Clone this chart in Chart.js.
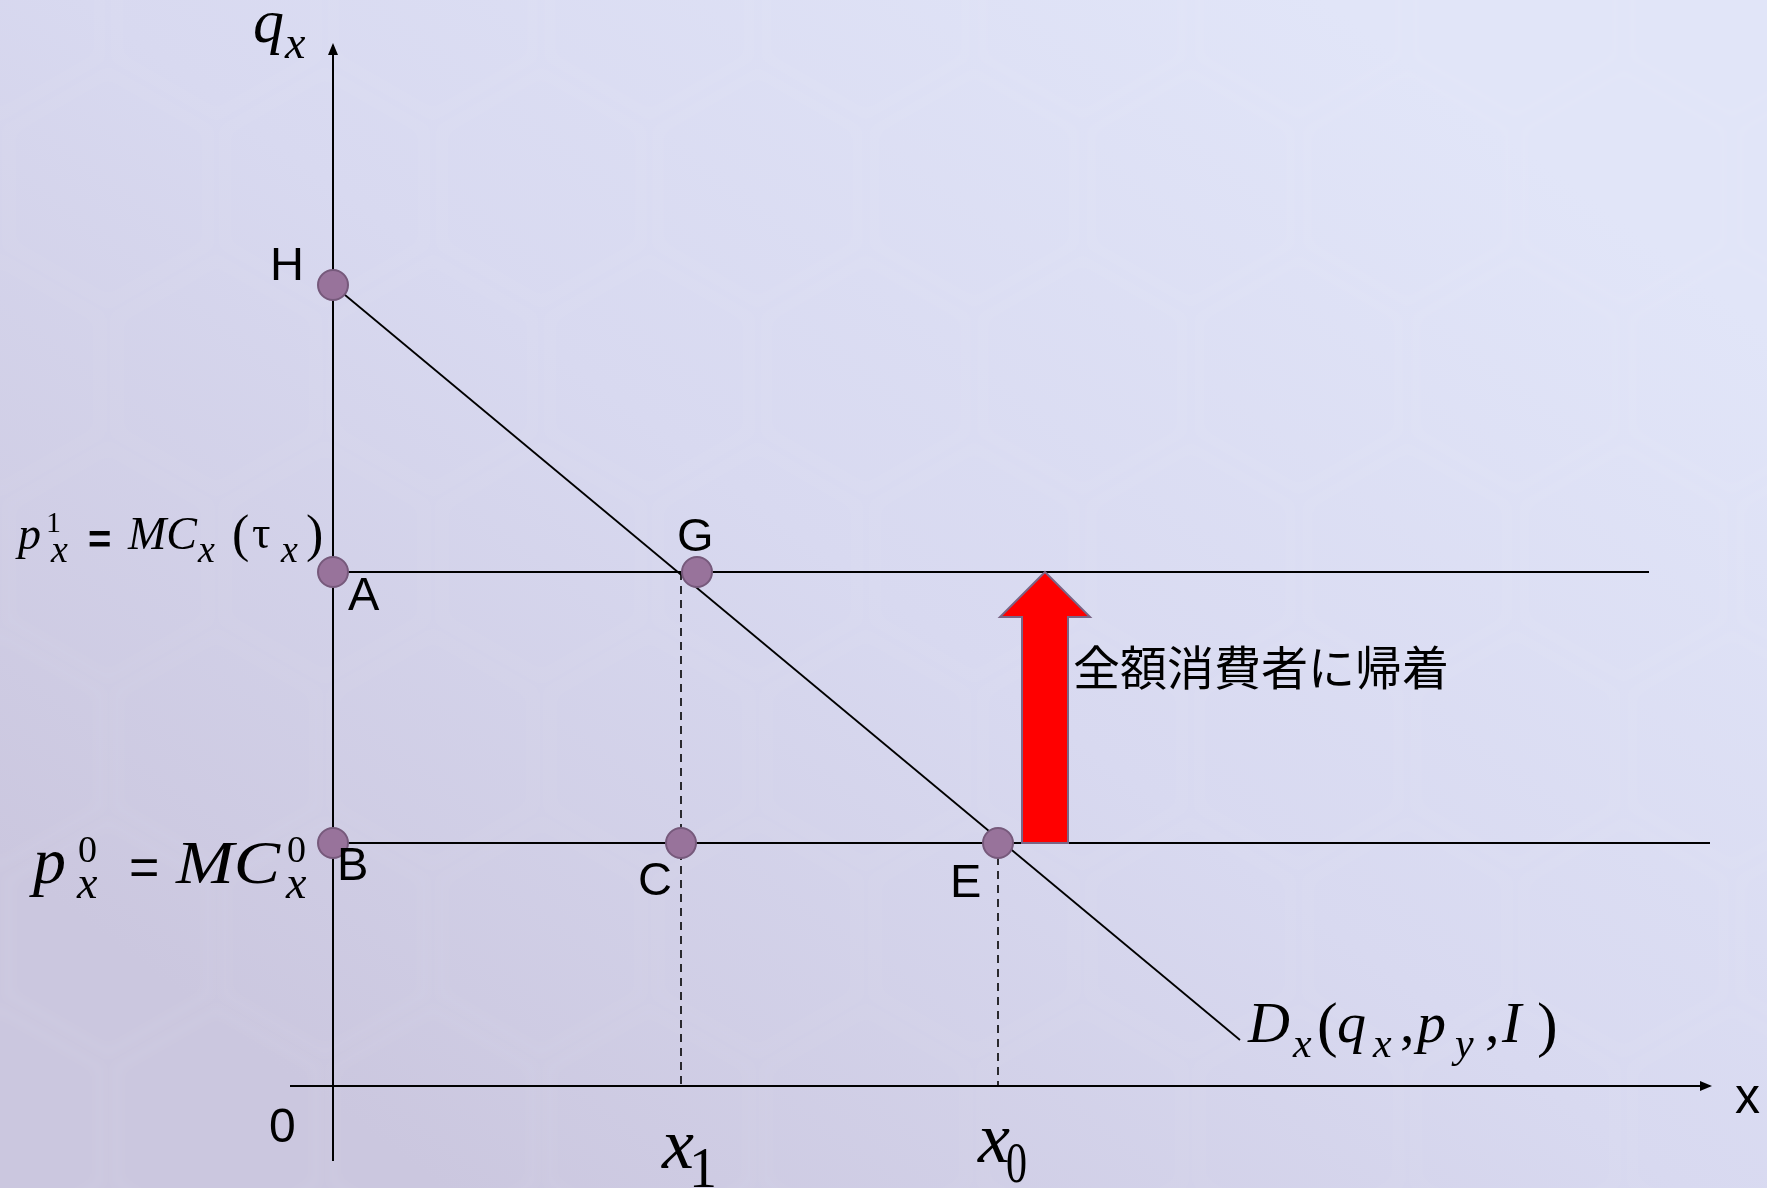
<!doctype html>
<html lang="ja">

<head>
  <meta charset="utf-8">
  <title>全額消費者に帰着</title>
  <style>
    * {
      margin: 0;
      padding: 0;
    }

    body {
      width: 1767px;
      height: 1188px;
      overflow: hidden;
    }
  </style>
</head>

<body>
  <canvas id="myChart" width="1767" height="1188"></canvas>
  <script src="https://cdn.jsdelivr.net/npm/chart.js/dist/chart.umd.min.js"></script>
  <script>

    // points on the diagram
    const pointNames = ['H', 'A', 'G', 'B', 'C', 'E'];
    const pointX = [0, 0, 3.64, 0, 3.48, 6.65];
    const pointY = [8.01, 5.14, 5.14, 2.43, 2.43, 2.43];

    // demand curve D_x(q_x, p_y, I)
    const demandX = [0, 9.07];
    const demandY = [8.01, 0.46];

    // price levels p1 (with tax) and p0, and where their lines stop
    const priceLevels = [5.14, 2.43];
    const priceLineEnds = [13.16, 13.77];

    // quantities x1 and x0
    const quantities = [3.48, 6.65];

    // axis extents
    const xAxisRange = [-0.43, 13.77];
    const yAxisRange = [-0.75, 10.41];

    // tax arrow sits between p0 and p1 at this x
    const arrowX = 7.12;

    const SERIF = '"Liberation Serif", "DejaVu Serif", serif';
    const SANS = '"Liberation Sans", Arial, sans-serif';
    const CJK = '"Noto Sans CJK JP", sans-serif';

    const line = (xs, ys, extra) => Object.assign({
      data: xs.map((x, i) => ({ x, y: ys[i] })),
      showLine: true,
      borderColor: '#000',
      borderWidth: 2,
      pointRadius: 0,
      pointHoverRadius: 0
    }, extra || {});

    // draws a run of text pieces (sub/superscripts) from a start point
    function drawRuns(ctx, x, y, runs) {
      runs.forEach(r => {
        ctx.font = (r.italic ? 'italic ' : '') + (r.bold ? 'bold ' : '') + r.size + 'px ' + (r.family || SERIF);
        ctx.save();
        ctx.translate(x + r.at, y + (r.dy || 0));
        ctx.scale(r.sx || 1, 1);
        ctx.fillText(r.t, 0, 0);
        ctx.restore();
      });
    }

    // paper-like backdrop with a faint hexagon weave
    const background = {
      id: 'background',
      beforeDraw(chart) {
        const { ctx, width, height } = chart;
        ctx.save();
        const g = ctx.createLinearGradient(width * 0.75, 0, width * 0.25, height);
        g.addColorStop(0, '#e1e5f8');
        g.addColorStop(0.5, '#d8d9f0');
        g.addColorStop(1, '#cbc7df');
        ctx.fillStyle = g;
        ctx.fillRect(0, 0, width, height);

        const r = 125;
        const w = Math.sqrt(3) * r;
        ctx.strokeStyle = 'rgba(255, 255, 255, 0.045)';
        ctx.lineWidth = 14;
        ctx.filter = 'blur(5px)';
        for (let row = -1; row * 1.5 * r < height + r; row++) {
          for (let col = -1; col * w < width + w; col++) {
            const cx = col * w + (row % 2 ? w / 2 : 0);
            const cy = row * 1.5 * r;
            ctx.beginPath();
            for (let k = 0; k < 6; k++) {
              const a = Math.PI / 3 * k + Math.PI / 6;
              const hx = cx + r * 0.92 * Math.cos(a);
              const hy = cy + r * 0.92 * Math.sin(a);
              k ? ctx.lineTo(hx, hy) : ctx.moveTo(hx, hy);
            }
            ctx.closePath();
            ctx.stroke();
          }
        }
        ctx.restore();
      }
    };

    const annotations = {
      id: 'annotations',
      afterDatasetsDraw(chart) {
        const { ctx, scales: { x, y } } = chart;
        const px = v => x.getPixelForValue(v);
        const py = v => y.getPixelForValue(v);
        ctx.save();

        // arrow heads on the axes
        ctx.fillStyle = '#000';
        const yTip = { x: px(0), y: py(yAxisRange[1]) };
        ctx.beginPath();
        ctx.moveTo(yTip.x, yTip.y - 2);
        ctx.lineTo(yTip.x - 5, yTip.y + 10);
        ctx.lineTo(yTip.x + 5, yTip.y + 10);
        ctx.closePath();
        ctx.fill();
        const xTip = { x: px(xAxisRange[1]), y: py(0) };
        ctx.beginPath();
        ctx.moveTo(xTip.x + 2, xTip.y);
        ctx.lineTo(xTip.x - 10, xTip.y - 5);
        ctx.lineTo(xTip.x - 10, xTip.y + 5);
        ctx.closePath();
        ctx.fill();

        // red arrow: price rises from p0 to p1
        const ax = px(arrowX);
        const top = py(priceLevels[0]);
        const bottom = py(priceLevels[1]);
        const headH = 45, headW = 45, shaftW = 23;
        ctx.beginPath();
        ctx.moveTo(ax, top);
        ctx.lineTo(ax + headW, top + headH);
        ctx.lineTo(ax + shaftW, top + headH);
        ctx.lineTo(ax + shaftW, bottom);
        ctx.lineTo(ax - shaftW, bottom);
        ctx.lineTo(ax - shaftW, top + headH);
        ctx.lineTo(ax - headW, top + headH);
        ctx.closePath();
        ctx.fillStyle = '#ff0000';
        ctx.fill();
        ctx.strokeStyle = '#7a6585';
        ctx.lineWidth = 2;
        ctx.stroke();

        ctx.fillStyle = '#000';
        ctx.textBaseline = 'middle';
        ctx.font = '47px ' + CJK;
        ctx.fillText('全額消費者に帰着', ax + 28, top + 95);

        ctx.textBaseline = 'alphabetic';

        // point letters
        const letterOffsets = [[-63, -5], [15, 38], [-20, -21], [4, 37], [-43, 52], [-48, 54]];
        ctx.font = '47px ' + SANS;
        pointNames.forEach((name, i) => {
          ctx.fillText(name, px(pointX[i]) + letterOffsets[i][0], py(pointY[i]) + letterOffsets[i][1]);
        });

        // origin and x-axis name
        ctx.font = '48px ' + SANS;
        ctx.fillText('0', px(0) - 64, py(0) + 56);
        ctx.font = '50px ' + SANS;
        ctx.fillText('x', xTip.x + 25, xTip.y + 27);

        // q_x on the vertical axis
        drawRuns(ctx, yTip.x - 80, yTip.y - 3, [
          { t: 'q', size: 62, italic: true, at: 0 },
          { t: 'x', size: 46, italic: true, at: 32, dy: 16 }
        ]);

        // p_x^1 = MC_x(τ_x)
        drawRuns(ctx, px(0) - 313, py(priceLevels[0]) - 23, [
          { t: 'p', size: 46, italic: true, at: -2 },
          { t: '1', size: 30, at: 26, dy: -17 },
          { t: 'x', size: 38, italic: true, at: 31, dy: 13 },
          { t: '=', size: 40, bold: true, family: SANS, at: 68, dy: 4 },
          { t: 'MC', size: 46, italic: true, at: 108 },
          { t: 'x', size: 38, italic: true, at: 178, dy: 13 },
          { t: '(', size: 52, at: 212, dy: 2 },
          { t: 'τ', size: 46, at: 232, dy: -1 },
          { t: 'x', size: 38, italic: true, at: 261, dy: 13 },
          { t: ')', size: 52, at: 286, dy: 2 }
        ]);

        // p_x^0 = MC_x^0
        drawRuns(ctx, px(0) - 298, py(priceLevels[1]) + 40, [
          { t: 'p', size: 66, italic: true, at: -2 },
          { t: '0', size: 38, at: 43, dy: -21 },
          { t: 'x', size: 46, italic: true, at: 42, dy: 15 },
          { t: '=', size: 52, family: SANS, at: 94, dy: 2 },
          { t: 'MC', size: 62, italic: true, at: 141, sx: 1.12 },
          { t: '0', size: 38, at: 252, dy: -21 },
          { t: 'x', size: 46, italic: true, at: 251, dy: 15 }
        ]);

        // D_x(q_x, p_y, I) at the end of the demand line
        drawRuns(ctx, px(demandX[1]) + 11, py(demandY[1]) + 2, [
          { t: 'D', size: 58, italic: true, at: -3 },
          { t: 'x', size: 42, italic: true, at: 42, dy: 15 },
          { t: '(', size: 62, at: 66, dy: 3 },
          { t: 'q', size: 58, italic: true, at: 86 },
          { t: 'x', size: 42, italic: true, at: 122, dy: 15 },
          { t: ',', size: 58, at: 149 },
          { t: 'p', size: 58, italic: true, at: 166 },
          { t: 'y', size: 42, italic: true, at: 204, dy: 15 },
          { t: ',', size: 58, at: 234 },
          { t: 'I', size: 58, italic: true, at: 251 },
          { t: ')', size: 62, at: 286, dy: 3 }
        ]);

        // x1 and x0 under the horizontal axis
        drawRuns(ctx, px(quantities[0]) - 19, py(0) + 82, [
          { t: 'x', size: 72, italic: true, at: 0 },
          { t: '1', size: 56, at: 27, dy: 19 }
        ]);
        drawRuns(ctx, px(quantities[1]) - 20, py(0) + 76, [
          { t: 'x', size: 72, italic: true, at: 0 },
          { t: '0', size: 56, at: 28, dy: 20, sx: 0.75 }
        ]);

        ctx.restore();
      }
    };

    const data = {
      datasets: [
        {
          data: pointX.map((x, i) => ({ x, y: pointY[i] })),
          showLine: false,
          pointRadius: 15,
          pointHoverRadius: 15,
          backgroundColor: '#98739b',
          borderColor: '#76597b',
          borderWidth: 2
        },
        line(demandX, demandY, { borderWidth: 1.8 }),
        line([0, priceLineEnds[0]], [priceLevels[0], priceLevels[0]]),
        line([0, priceLineEnds[1]], [priceLevels[1], priceLevels[1]]),
        line([quantities[0], quantities[0]], [priceLevels[0], 0], { borderWidth: 1.6, borderDash: [8, 6] }),
        line([quantities[1], quantities[1]], [priceLevels[1], 0], { borderWidth: 1.6, borderDash: [8, 6] }),
        line(xAxisRange, [0, 0]),
        line([0, 0], yAxisRange)
      ]
    };

    const config = {
      type: 'scatter',
      data,
      options: {
        responsive: false,
        animation: false,
        events: [],
        layout: { padding: 0, autoPadding: false },
        plugins: {
          legend: { display: false },
          tooltip: { enabled: false }
        },
        scales: {
          x: { type: 'linear', min: -3.33, max: 14.34, display: false },
          y: { type: 'linear', min: -1.02, max: 10.86, display: false }
        }
      },
      plugins: [background, annotations]
    };

    const ctx = document.getElementById('myChart');
    const myChart = new Chart(ctx, config);
  </script>

</body>

</html>
